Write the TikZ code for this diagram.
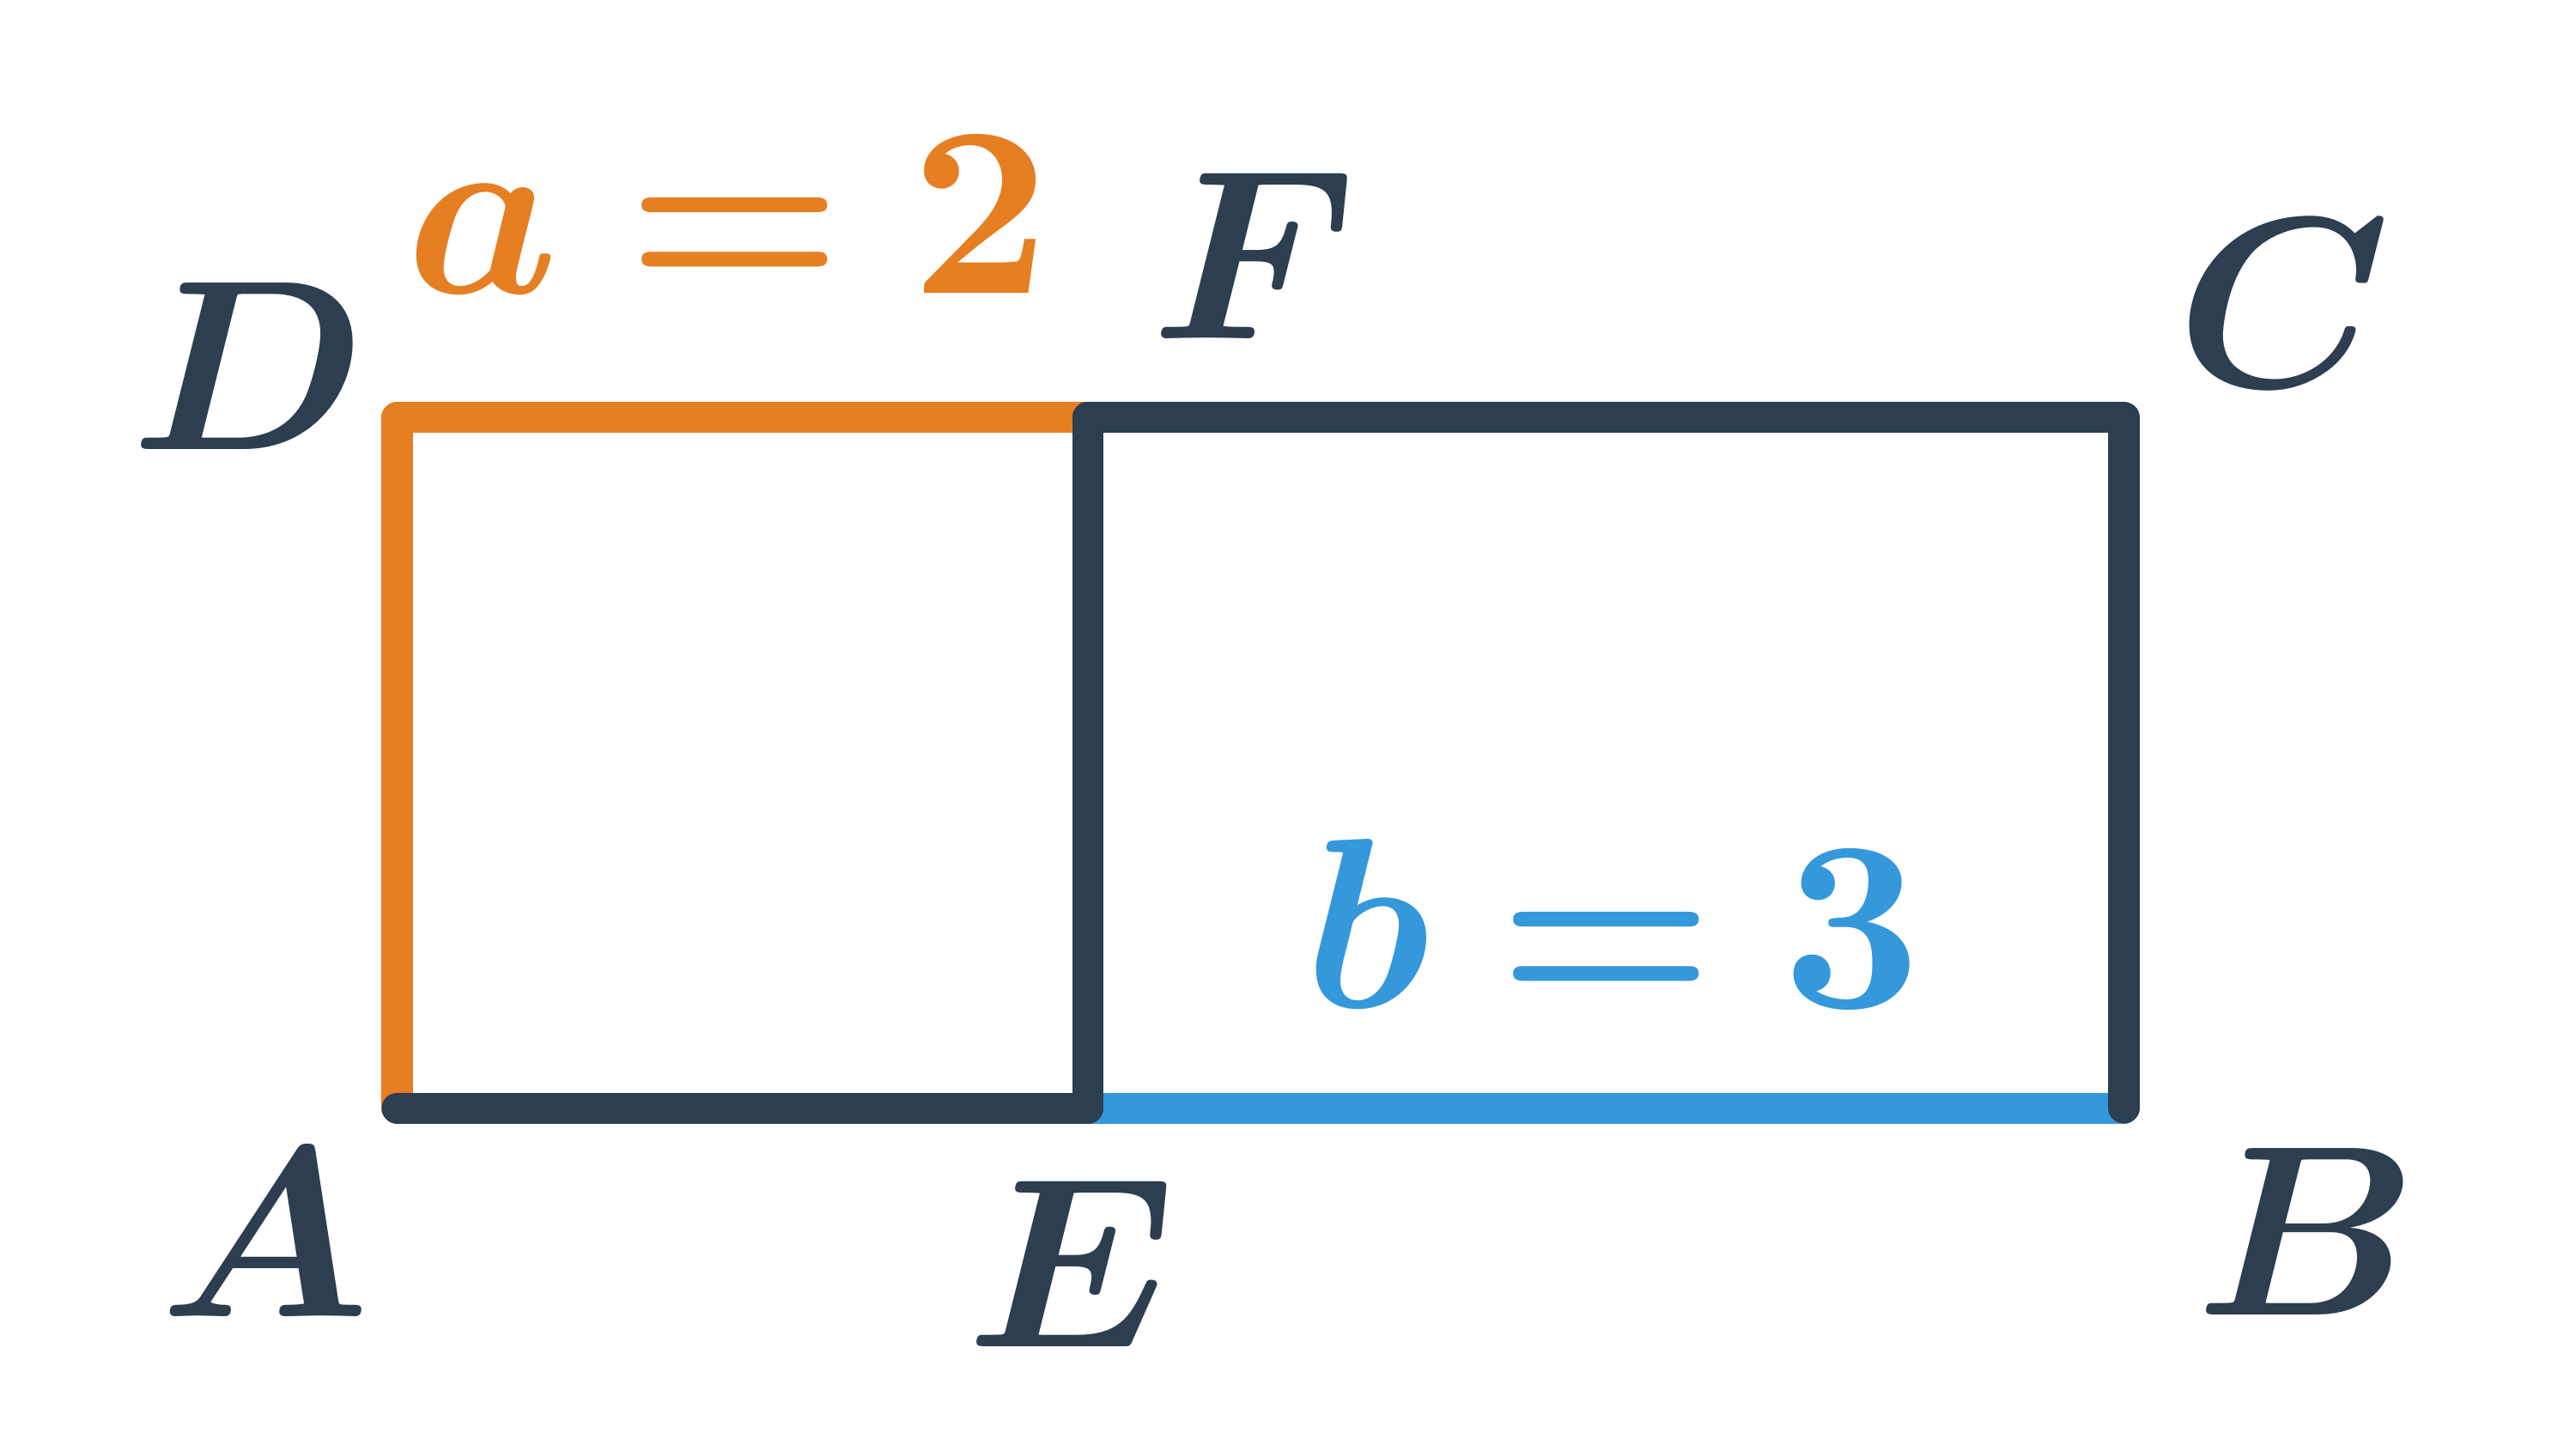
\documentclass[tikz,border=0pt]{standalone}
\usepackage{amsmath}
\usepackage{bm}
\definecolor{orangeC}{HTML}{E67E22}
\definecolor{darkC}{HTML}{2C3E50}
\definecolor{blueC}{HTML}{3498DB}
\begin{document}
\begin{tikzpicture}[x=1cm,y=1cm,
  seg/.style={line width=2.55pt, line cap=round, line join=round},
  lab/.style={text=darkC, scale=2, inner sep=0pt},
  eqlab/.style={scale=2, inner sep=0pt}]
\useasboundingbox (-1.150,-0.991) rectangle (6.309,3.209);
\coordinate (A) at (0,0);
\coordinate (E) at (2,0);
\coordinate (B) at (5,0);
\coordinate (D) at (0,2);
\coordinate (F) at (2,2);
\coordinate (C) at (5,2);
\draw[seg, orangeC] (A) -- (D) -- (F);
\draw[seg, blueC] (E) -- (B);
\draw[seg, darkC] (A) -- (E);
\draw[seg, darkC] (E) -- (F);
\draw[seg, darkC] (F) -- (C) -- (B);
\node[lab] (lA) at (-0.383,-0.362) {$\boldsymbol{A}$};
\node[lab] (lD) at (-0.430,2.149) {$\boldsymbol{D}$};
\node[lab] (lE) at (1.953,-0.451) {$\boldsymbol{E}$};
\node[lab] (lF) at (2.482,2.468) {$\boldsymbol{F}$};
\node[lab] (lC) at (5.464,2.331) {$\boldsymbol{C}$};
\node[lab] (lB) at (5.531,-0.359) {$\boldsymbol{B}$};
\node[eqlab, text=orangeC] (la) at (0.958,2.587) {$\boldsymbol{a = 2}$};
\node[eqlab, text=blueC] (lb) at (3.521,0.536) {$\boldsymbol{b = 3}$};
\end{tikzpicture}
\end{document}
